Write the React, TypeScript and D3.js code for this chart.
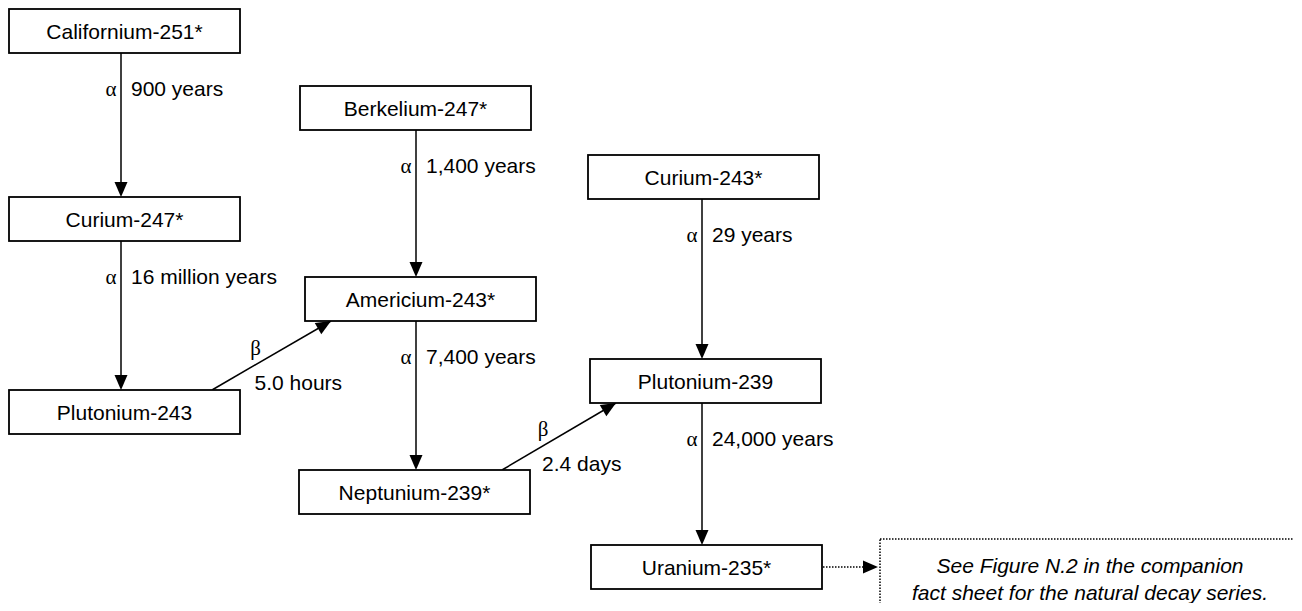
import { select } from 'd3';
import { useEffect, useRef } from 'react';

// nuclides in the chain
const nuclides = [
  'Californium-251*',
  'Curium-247*',
  'Plutonium-243',
  'Berkelium-247*',
  'Americium-243*',
  'Neptunium-239*',
  'Curium-243*',
  'Plutonium-239',
  'Uranium-235*',
];

// decays: parent -> daughter
const decayParents = ['Californium-251*', 'Curium-247*', 'Plutonium-243', 'Berkelium-247*', 'Americium-243*', 'Neptunium-239*', 'Curium-243*', 'Plutonium-239'];
const decayDaughters = ['Curium-247*', 'Plutonium-243', 'Americium-243*', 'Americium-243*', 'Neptunium-239*', 'Plutonium-239', 'Plutonium-239', 'Uranium-235*'];
const decayModes = ['α', 'α', 'β', 'α', 'α', 'β', 'α', 'α'];
const halfLives = ['900 years', '16 million years', '5.0 hours', '1,400 years', '7,400 years', '2.4 days', '29 years', '24,000 years'];

const noteLines = ['See Figure N.2 in the companion', 'fact sheet for the natural decay series.'];

// box layout (left, top) for each nuclide
const boxPos: Record<string, [number, number]> = {
  'Californium-251*': [9, 9],
  'Curium-247*': [9, 197],
  'Plutonium-243': [9, 390],
  'Berkelium-247*': [300, 86],
  'Americium-243*': [305, 277],
  'Neptunium-239*': [299, 470],
  'Curium-243*': [588, 155],
  'Plutonium-239': [590, 359],
  'Uranium-235*': [591, 545],
};
// x of the vertical alpha arrows for each column
const colLineX = [121, 416, 702];

export default function App() {
  const svgRef = useRef<SVGSVGElement>(null);

  useEffect(() => {
    const width = 1302;
    const height = 611;
    const boxW = 231;
    const boxH = 44;
    const font = "'Liberation Sans', Arial, sans-serif";
    const greek = "'Liberation Serif', 'Times New Roman', serif";

    const svg = select(svgRef.current);
    svg.selectAll('*').remove();
    svg.attr('width', width).attr('height', height);

    const box = (n: string) => {
      const [x, y] = boxPos[n];
      return { x, y, r: x + boxW, b: y + boxH, cx: x + boxW / 2 };
    };
    const colOf = (n: string) => (boxPos[n][0] < 200 ? 0 : boxPos[n][0] < 560 ? 1 : 2);

    const arrowHead = (g: any, x1: number, y1: number, x2: number, y2: number) => {
      const len = 15;
      const half = 6.5;
      const a = Math.atan2(y2 - y1, x2 - x1);
      const bx = x2 - len * Math.cos(a);
      const by = y2 - len * Math.sin(a);
      const px = -Math.sin(a) * half;
      const py = Math.cos(a) * half;
      g.append('path')
        .attr('d', `M${x2},${y2}L${bx + px},${by + py}L${bx - px},${by - py}Z`)
        .attr('fill', '#000');
    };

    const links = svg.append('g');
    decayParents.forEach((p, i) => {
      const d = decayDaughters[i];
      const pb = box(p);
      const db = box(d);
      if (decayModes[i] === 'α') {
        const x = colLineX[colOf(p)];
        links
          .append('line')
          .attr('x1', x)
          .attr('y1', pb.b)
          .attr('x2', x)
          .attr('y2', db.y - 12)
          .attr('stroke', '#000')
          .attr('stroke-width', 1.5);
        arrowHead(links, x, pb.b, x, db.y);
        const ly = pb.b + 43;
        links
          .append('text')
          .attr('x', x - 10)
          .attr('y', ly)
          .attr('text-anchor', 'middle')
          .attr('font-family', greek)
          .attr('font-size', 21)
          .text(decayModes[i]);
        links
          .append('text')
          .attr('x', x + 10)
          .attr('y', ly)
          .attr('font-family', font)
          .attr('font-size', 21)
          .text(halfLives[i]);
      } else {
        const x1 = pb.r - 28;
        const y1 = pb.y;
        const x2 = db.x + 26;
        const y2 = db.b;
        links
          .append('line')
          .attr('x1', x1)
          .attr('y1', y1)
          .attr('x2', x2)
          .attr('y2', y2)
          .attr('stroke', '#000')
          .attr('stroke-width', 1.5);
        arrowHead(links, x1, y1, x2, y2);
        const mx = (x1 + x2) / 2;
        const my = (y1 + y2) / 2;
        links
          .append('text')
          .attr('x', mx - 16)
          .attr('y', my - 1)
          .attr('text-anchor', 'middle')
          .attr('font-family', greek)
          .attr('font-size', 21)
          .text(decayModes[i]);
        links
          .append('text')
          .attr('x', mx - 17)
          .attr('y', my + 34)
          .attr('font-family', font)
          .attr('font-size', 21)
          .text(halfLives[i]);
      }
    });

    const boxes = svg
      .append('g')
      .selectAll('g')
      .data(nuclides)
      .enter()
      .append('g')
      .attr('transform', (d) => `translate(${boxPos[d][0]},${boxPos[d][1]})`);
    boxes
      .append('rect')
      .attr('width', boxW)
      .attr('height', boxH)
      .attr('fill', '#fff')
      .attr('stroke', '#000')
      .attr('stroke-width', 1.8);
    boxes
      .append('text')
      .attr('x', boxW / 2)
      .attr('y', boxH / 2 + 7.5)
      .attr('text-anchor', 'middle')
      .attr('font-family', font)
      .attr('font-size', 21)
      .text((d) => d);

    // note box with dotted pointer from the last nuclide
    const last = box(nuclides[nuclides.length - 1]);
    const noteX = 880;
    const noteY = 539;
    const ay = last.y + 22;
    svg
      .append('line')
      .attr('x1', last.r + 1)
      .attr('y1', ay)
      .attr('x2', noteX - 14)
      .attr('y2', ay)
      .attr('stroke', '#000')
      .attr('stroke-width', 1.5)
      .attr('stroke-dasharray', '1.5,1.5');
    arrowHead(svg, last.r, ay, noteX - 2, ay);
    svg
      .append('rect')
      .attr('x', noteX)
      .attr('y', noteY)
      .attr('width', 420)
      .attr('height', 100)
      .attr('fill', 'none')
      .attr('stroke', '#000')
      .attr('stroke-width', 1.5)
      .attr('stroke-dasharray', '1.5,1.5');
    svg
      .append('g')
      .selectAll('text')
      .data(noteLines)
      .enter()
      .append('text')
      .attr('x', noteX + 210)
      .attr('y', (_, i) => noteY + 34 + i * 27)
      .attr('text-anchor', 'middle')
      .attr('font-family', font)
      .attr('font-style', 'italic')
      .attr('font-size', 21)
      .text((d) => d);
  }, []);

  return (
    <div style={{ margin: -8 }}>
      <svg ref={svgRef} style={{ display: 'block' }}></svg>
    </div>
  );
}
